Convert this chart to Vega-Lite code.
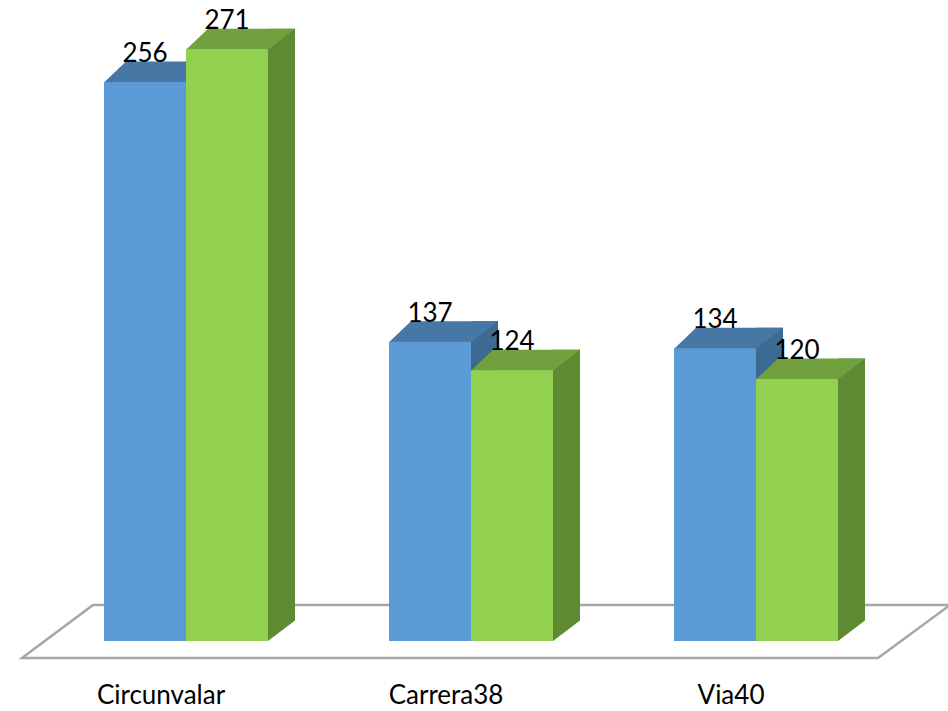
{
  "$schema": "https://vega.github.io/schema/vega-lite/v6.json",
  "width": 855,
  "height": 641,
  "autosize": {"type": "none"},
  "padding": {"left": 43.5, "right": 49.5, "top": 0, "bottom": 70},
  "background": "white",
  "config": {"view": {"stroke": null}},
  "data": {"values": [
    {"cat": "Circunvalar", "s": "Serie 1", "v": 256},
    {"cat": "Circunvalar", "s": "Serie 2", "v": 271},
    {"cat": "Carrera38", "s": "Serie 1", "v": 137},
    {"cat": "Carrera38", "s": "Serie 2", "v": 124},
    {"cat": "Via40", "s": "Serie 1", "v": 134},
    {"cat": "Via40", "s": "Serie 2", "v": 120}
  ]},
  "encoding": {
    "x": {
      "field": "cat", "type": "nominal", "sort": null,
      "scale": {"domain": ["Circunvalar", "Carrera38", "Via40"], "paddingInner": 0, "paddingOuter": 0},
      "axis": {"title": null, "domain": false, "ticks": false, "tickSize": 0, "grid": false, "labelAngle": 0,
               "labelFont": "Lato", "labelFontSize": 26, "labelColor": "#000000", "labelBaseline": "middle",
               "labelPadding": 54, "labelOffset": -25}
    }
  },
  "layer": [
    {
      "transform": [{"filter": "datum.cat == 'Carrera38' && datum.s == 'Serie 1'"}],
      "mark": {"type": "point", "shape": "M -0.898 0.034 L 0.814 0.034 L 0.958 -0.072 L -0.756 -0.072 Z", "size": 1000000,
               "filled": true, "fill": "white", "stroke": "#A6A6A6", "strokeWidth": 2.5, "opacity": 1},
      "encoding": {"y": {"datum": 0, "type": "quantitative", "scale": {"domain": [0, 293.5], "nice": false, "zero": true}, "axis": null}}
    },
    {
      "transform": [{"filter": "datum.s == 'Serie 1'"}],
      "mark": {"type": "bar", "width": 27, "xOffset": 13.5, "yOffset": -20.5, "y2Offset": -20.5, "color": "#3D6A93"},
      "encoding": {"y": {"field": "v", "type": "quantitative", "axis": null}, "y2": {"datum": 0}}
    },
    {
      "transform": [{"filter": "datum.s == 'Serie 1'"}],
      "mark": {"type": "point", "shape": "M 0 0 L 0 -0.8 L 1 -0.8 L 1 -0.759 Z", "size": 2916, "filled": true, "color": "#3D6A93", "opacity": 1, "strokeWidth": 0, "xOffset": 0},
      "encoding": {"y": {"datum": 0, "type": "quantitative"}}
    },
    {
      "transform": [{"filter": "datum.s == 'Serie 1'"}],
      "mark": {"type": "point", "shape": "M -0.7455 0.01 L 0.7455 0.01 L 1.2364 -0.3727 L -0.3455 -0.3727 Z", "size": 12100, "filled": true, "color": "#4677A5", "opacity": 1, "strokeWidth": 0, "xOffset": -41},
      "encoding": {"y": {"field": "v", "type": "quantitative"}}
    },
    {
      "transform": [{"filter": "datum.s == 'Serie 1'"}],
      "mark": {"type": "bar", "width": 82, "xOffset": -41, "color": "#5B9BD5"},
      "encoding": {"y": {"field": "v", "type": "quantitative"}, "y2": {"datum": 0}}
    },
    {
      "transform": [{"filter": "datum.s == 'Serie 2'"}],
      "mark": {"type": "bar", "width": 27, "xOffset": 95.5, "yOffset": -20.5, "y2Offset": -20.5, "color": "#5E8A31"},
      "encoding": {"y": {"field": "v", "type": "quantitative"}, "y2": {"datum": 0}}
    },
    {
      "transform": [{"filter": "datum.s == 'Serie 2'"}],
      "mark": {"type": "point", "shape": "M 0 0 L 0 -0.8 L 1 -0.8 L 1 -0.759 Z", "size": 2916, "filled": true, "color": "#5E8A31", "opacity": 1, "strokeWidth": 0, "xOffset": 82},
      "encoding": {"y": {"datum": 0, "type": "quantitative"}}
    },
    {
      "transform": [{"filter": "datum.s == 'Serie 2'"}],
      "mark": {"type": "point", "shape": "M -0.7455 0.01 L 0.7455 0.01 L 1.2364 -0.3727 L -0.3455 -0.3727 Z", "size": 12100, "filled": true, "color": "#71A03F", "opacity": 1, "strokeWidth": 0, "xOffset": 41},
      "encoding": {"y": {"field": "v", "type": "quantitative"}}
    },
    {
      "transform": [{"filter": "datum.s == 'Serie 2'"}],
      "mark": {"type": "bar", "width": 82, "xOffset": 41, "color": "#92D050"},
      "encoding": {"y": {"field": "v", "type": "quantitative"}, "y2": {"datum": 0}}
    },
    {
      "transform": [{"filter": "datum.s == 'Serie 1'"}],
      "mark": {"type": "text", "xOffset": -41, "dy": -28, "font": "Lato", "fontSize": 26, "color": "#000000", "baseline": "middle", "align": "center"},
      "encoding": {"y": {"field": "v", "type": "quantitative"}, "text": {"field": "v", "type": "quantitative"}}
    },
    {
      "transform": [{"filter": "datum.s == 'Serie 2'"}],
      "mark": {"type": "text", "xOffset": 41, "dy": -28, "font": "Lato", "fontSize": 26, "color": "#000000", "baseline": "middle", "align": "center"},
      "encoding": {"y": {"field": "v", "type": "quantitative"}, "text": {"field": "v", "type": "quantitative"}}
    }
  ]
}
